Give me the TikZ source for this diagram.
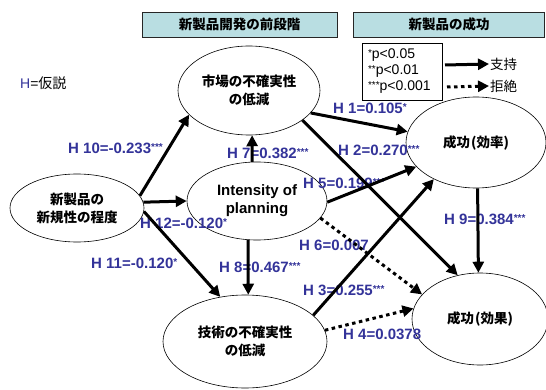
\documentclass[tikz,border=0pt]{standalone}
\usepackage{fontspec}
\setmainfont{Liberation Sans}
\newfontfamily\jp{Noto Sans CJK JP}
\usetikzlibrary{shapes.geometric,arrows.meta}
\definecolor{hblue}{RGB}{51,51,153}
\definecolor{hdrfill}{RGB}{185,222,226}
\newcommand\hstars[1]{\raisebox{3pt}{\fontsize{10}{10}\selectfont #1}}
\newcommand\lstars[1]{\raisebox{2pt}{\fontsize{10}{10}\selectfont #1}}
\begin{document}
\begin{tikzpicture}[x=1pt,y=-1pt,
  ell/.style={ellipse,draw,fill=white,inner sep=0pt,align=center,line width=0.6pt},
  jpt/.style={font=\jp\bfseries\fontsize{13.5}{18}\selectfont},
  hyp/.style={anchor=base west,inner sep=0pt,text=hblue,font=\bfseries\fontsize{15}{18}\selectfont},
  arr/.style={line width=3pt,-{Triangle[length=11pt,width=11pt]}},
  darr/.style={arr,dash pattern=on 3.5pt off 3.5pt},
  hdr/.style={draw=black!85,fill=hdrfill,line width=0.8pt,minimum height=25pt,inner sep=0pt,font=\jp\bfseries\fontsize{13.5}{16}\selectfont}
]
\useasboundingbox (0,0) rectangle (546,390);
% header boxes
\node[hdr,minimum width=195pt] (h1) at (239.5,24.5) {新製品開発の前段階};
\node[hdr,minimum width=191pt] (h2) at (449,24.5) {新製品の成功};
% legend
\node[draw,line width=0.6pt,minimum width=80pt,minimum height=57pt,inner xsep=6pt,inner ysep=2pt,text width=68pt,align=left,font=\fontsize{14}{16}\selectfont] (leg) at (402,71.5)
  {\lstars{*}p<0.05\\\lstars{**}p<0.01\\\lstars{***}p<0.001};
\node[anchor=west,inner sep=1pt,font=\jp\fontsize{13.5}{16}\selectfont] (sup) at (489,64) {支持};
\node[anchor=west,inner sep=1pt,font=\jp\fontsize{13.5}{16}\selectfont] (rej) at (489,86) {拒絶};
\coordinate (s0) at (445,65);
\coordinate (r0) at (447,87);
\node[anchor=west,inner sep=0pt,font=\fontsize{14}{16}\selectfont] (hkey) at (20,83) {\textcolor{hblue}{H}={\jp 仮説}};
% ellipses
\node[ell,jpt,minimum width=142pt,minimum height=89pt] (mkt) at (249,90.5) {市場の不確実性\\の低減};
\node[ell,jpt,minimum width=134pt,minimum height=68pt] (nov) at (77,208) {新製品の\\新規性の程度};
\node[ell,font=\bfseries\fontsize{15}{18}\selectfont,minimum width=140pt,minimum height=78pt] (plan) at (257,201) {Intensity of\\planning};
\node[ell,jpt,minimum width=164pt,minimum height=93pt] (tech) at (245,341.5) {技術の不確実性\\の低減};
\node[ell,jpt,minimum width=140pt,minimum height=91pt] (eff1) at (476,142.5) {成功\kern1pt(効率)};
\node[ell,jpt,minimum width=136pt,minimum height=92pt] (eff2) at (480,319) {成功\kern1pt(効果)};
% labels
\node[hyp] (l10) at (68,153.4) {H 10=-0.233\hstars{***}};
\node[hyp] (l12) at (140,228.4) {H 12=-0.120\hstars{*}};
\node[hyp] (l11) at (91,268.4) {H 11=-0.120\hstars{*}};
\node[hyp] (l7) at (227,158.4) {H 7=0.382\hstars{***}};
\node[hyp] (l8) at (219,272.4) {H 8=0.467\hstars{***}};
\node[hyp] (l5) at (303,188.4) {H 5=0.199\hstars{***}};
\node[hyp] (l6) at (299,250.4) {H 6=0.007};
\node[hyp] (l3) at (303,295.4) {H 3=0.255\hstars{***}};
\node[hyp] (l1) at (333,113.4) {H 1=0.105\hstars{*}};
\node[hyp] (l2) at (338,155.4) {H 2=0.270\hstars{***}};
\node[hyp] (l9) at (444,224.4) {H 9=0.384\hstars{***}};
\node[hyp] (l4) at (343,339.4) {H 4=0.0378};
% arrows
\draw[arr] (s0) -- (sup.west);
\draw[darr] (r0) -- (rej.west);
\draw[arr] (nov.11) -- (mkt.202);
\draw[arr] (nov.5) -- (plan.180);
\draw[arr] (nov.-3) -- (tech.119);
\draw[arr] (plan.97) -- (mkt.-86);
\draw[arr] (plan.-103) -- (tech.86);
\draw[arr] (mkt.-20) -- (eff1.171);
\draw[arr] (mkt.-29) -- (eff2.117);
\draw[arr] (plan.-1) -- (eff1.202);
\draw[darr] (plan.-15) -- (eff2.157);
\draw[arr] (tech.21) -- (eff1.221);
\draw[darr] (tech.8) -- (eff2.171);
\draw[arr] (eff1.-88) -- (eff2.92);
\end{tikzpicture}
\end{document}
